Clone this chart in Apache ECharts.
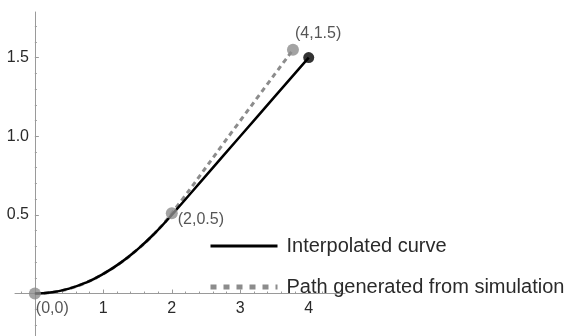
<!DOCTYPE html>
<html><head><meta charset="utf-8">
<script src="https://cdn.jsdelivr.net/npm/echarts@6/dist/echarts.min.js"></script>
<style>html,body{margin:0;padding:0;background:#fff}#c{width:574px;height:336px}</style>
</head><body><div id="c"></div>
<script>
// Data
const interpolatedCurve = [[0,0],[0.25,0.008],[0.5,0.031],[0.75,0.07],[1,0.125],[1.25,0.195],[1.5,0.281],[1.75,0.383],[2,0.5],[2.5,0.75],[3,1.0],[3.5,1.25],[4,1.5]];
const simulationPath = [[0,0],[0.25,0.008],[0.5,0.031],[0.75,0.07],[1,0.125],[1.25,0.195],[1.5,0.281],[1.75,0.383],[2,0.51],[2.9,1.04],[3.77,1.55]];
const grayPoints = [[0,0],[2,0.51],[3.77,1.55]];
const pointLabels = ['(0,0)','(2,0.5)','(4,1.5)'];
const blackPoints = [[4,1.5]];
const xTickLabels = [1,2,3,4];
const yTickLabels = [0.5,1.0,1.5];
const xMinorTicks = [-0.2,0.2,0.4,0.6,0.8,1.2,1.4,1.6,1.8,2.2,2.4,2.6,2.8,3.2,3.4,3.6,3.8,4.2,4.4];
const yMinorTicks = [-0.2,-0.1,0.1,0.2,0.3,0.4,0.6,0.7,0.8,0.9,1.1,1.2,1.3,1.4,1.6,1.7];
const legendNames = ['Interpolated curve','Path generated from simulation'];

// label offsets (px, from point centre) – styling only
const labelOffsets = [[1,15],[6,6],[2,-16]];

const font = '"Liberation Sans", Arial, sans-serif';
const axisColor = '#9a9a9a';
const textColor = '#2a2a2a';
const chart = echarts.init(document.getElementById('c'));
const xBase = {type:'value', min:-0.29, max:4.53, splitLine:{show:false}};
const yBase = {type:'value', min:-0.27, max:1.79, splitLine:{show:false}};
chart.setOption({
  animation:false,
  grid:{left:15, right:229, top:12, bottom:0, containLabel:false, outerBoundsMode:'none'},
  xAxis:[
    Object.assign({}, xBase, {
      axisLine:{onZero:true, lineStyle:{color:axisColor, width:1}},
      axisTick:{show:true, inside:true, length:4, customValues:xTickLabels, lineStyle:{color:axisColor}},
      axisLabel:{customValues:xTickLabels, color:textColor, fontSize:16, fontFamily:font, margin:-35}
    }),
    Object.assign({}, xBase, {
      position:'bottom',
      axisLine:{show:false, onZero:true, onZeroAxisIndex:0},
      axisTick:{show:true, inside:true, length:2, customValues:xMinorTicks, lineStyle:{color:axisColor}},
      axisLabel:{show:false}
    })
  ],
  yAxis:[
    Object.assign({}, yBase, {
      axisLine:{onZero:true, lineStyle:{color:axisColor, width:1}},
      axisTick:{show:true, inside:true, length:4, customValues:yTickLabels, lineStyle:{color:axisColor}},
      axisLabel:{customValues:yTickLabels, color:textColor, fontSize:16, fontFamily:font, margin:-14,
        formatter:v=>v.toFixed(1)}
    }),
    Object.assign({}, yBase, {
      position:'left',
      axisLine:{show:false, onZero:true, onZeroAxisIndex:0},
      axisTick:{show:true, inside:true, length:2, customValues:yMinorTicks, lineStyle:{color:axisColor}},
      axisLabel:{show:false}
    })
  ],
  legend:{
    orient:'vertical', left:203, top:231, itemWidth:67, itemHeight:14, itemGap:21,
    textStyle:{color:textColor, fontSize:20, fontFamily:font, padding:[0,0,0,4]},
    data:[
      {name:legendNames[0], itemStyle:{opacity:0}, lineStyle:{color:'#000', width:3, opacity:1}},
      {name:legendNames[1], itemStyle:{opacity:0}, lineStyle:{color:'#8c8c8c', width:5, type:[6,7], opacity:1}}
    ]
  },
  series:[
    {name:legendNames[1], type:'line', data:simulationPath, smooth:true, symbol:'none', z:2,
      color:'#8c8c8c', lineStyle:{color:'#8c8c8c', width:3, type:[5,4]}},
    {name:legendNames[0], type:'line', data:interpolatedCurve, smooth:true, symbol:'none', z:3,
      color:'#000', lineStyle:{color:'#000', width:2.5}},
    {type:'scatter', data:grayPoints, symbolSize:12, z:4,
      itemStyle:{color:'#8c8c8c'},
      label:{show:true, formatter:p=>pointLabels[p.dataIndex], color:textColor, fontSize:16, fontFamily:font,
        position:'right'},
      labelLayout:function(p){
        const o=labelOffsets[p.dataIndex];
        return {x:p.rect.x+p.rect.width/2+o[0], y:p.rect.y+p.rect.height/2+o[1], align:'left', verticalAlign:'middle'};
      }
    },
    {type:'scatter', data:blackPoints, symbolSize:11, z:5, itemStyle:{color:'#000'}}
  ]
});
</script></body></html>
